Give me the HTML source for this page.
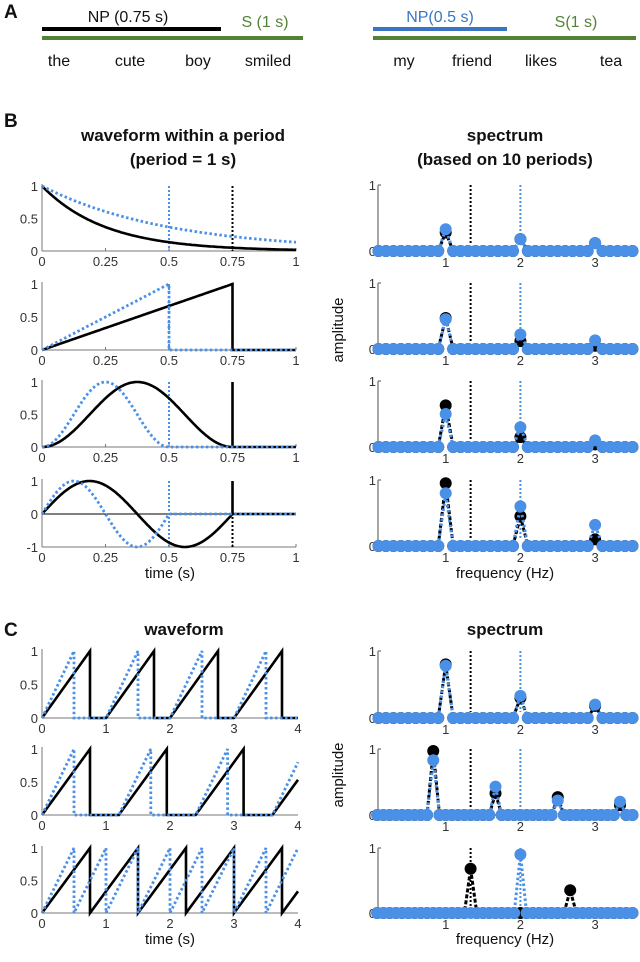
<!DOCTYPE html>
<html><head><meta charset="utf-8"><style>
body{margin:0;background:#fff;}
svg{display:block;font-family:"Liberation Sans",Arial,sans-serif;}
.tk{font-size:13px;fill:#333;}
.lab{font-size:15px;fill:#111;}
.ttl{font-size:17px;font-weight:bold;fill:#111;}
.pl{font-size:19px;font-weight:bold;fill:#111;}
</style></head><body>
<svg id="fig" width="640" height="962" viewBox="0 0 640 962">
<g>
<text class="pl" x="4" y="18">A</text>
<text x="128" y="22" text-anchor="middle" font-size="16" fill="#111">NP (0.75 s)</text>
<text x="265" y="27" text-anchor="middle" font-size="16" fill="#548235">S (1 s)</text>
<rect x="42" y="27" width="179" height="4" fill="#000"/>
<rect x="42" y="36" width="261" height="4" fill="#548235"/>
<g font-size="16" fill="#111" text-anchor="middle">
<text x="59" y="66">the</text><text x="130" y="66">cute</text><text x="198" y="66">boy</text><text x="268" y="66">smiled</text></g>
<text x="440" y="22" text-anchor="middle" font-size="16" fill="#3a75c4">NP(0.5 s)</text>
<text x="576" y="27" text-anchor="middle" font-size="16" fill="#548235">S(1 s)</text>
<rect x="373" y="27" width="134" height="4" fill="#3a75c4"/>
<rect x="373" y="36" width="263" height="4" fill="#548235"/>
<g font-size="16" fill="#111" text-anchor="middle">
<text x="404" y="66">my</text><text x="472" y="66">friend</text><text x="541" y="66">likes</text><text x="611" y="66">tea</text></g>
</g>
<text class="pl" x="4" y="127">B</text>
<text class="ttl" x="183" y="141" text-anchor="middle">waveform within a period</text>
<text class="ttl" x="183" y="165" text-anchor="middle">(period = 1 s)</text>
<text class="ttl" x="505" y="141" text-anchor="middle">spectrum</text>
<text class="ttl" x="505" y="165" text-anchor="middle">(based on 10 periods)</text>
<text class="lab" x="170" y="578" text-anchor="middle">time (s)</text>
<text class="lab" x="505" y="578" text-anchor="middle">frequency (Hz)</text>
<text class="lab" transform="translate(343,330) rotate(-90)" text-anchor="middle">amplitude</text>
<text class="pl" x="4" y="636">C</text>
<text class="ttl" x="184" y="635" text-anchor="middle">waveform</text>
<text class="ttl" x="505" y="635" text-anchor="middle">spectrum</text>
<text class="lab" x="170" y="944" text-anchor="middle">time (s)</text>
<text class="lab" x="505" y="944" text-anchor="middle">frequency (Hz)</text>
<text class="lab" transform="translate(343,775) rotate(-90)" text-anchor="middle">amplitude</text>
</svg>
<script>
// ---- data ----
const bTicksX = ["0","0.25","0.5","0.75","1"];
const bTickVals = [0,0.25,0.5,0.75,1];
const cTickVals = [0,1,2,3,4];
const fTickVals = [1,2,3];
const decayBlack = 4, decayBlue = 2;          // exp decay rates (row 1)
const npDurBlack = 0.75, npDurBlue = 0.5;     // NP durations
const specBHarm = [1,2,3];
const specBBlack = [[0.28,0.18,0.12],[0.47,0.12,0.05],[0.63,0.15,0.04],[0.95,0.45,0.10]];
const specBBlue  = [[0.33,0.18,0.12],[0.45,0.22,0.13],[0.50,0.30,0.10],[0.80,0.60,0.32]];
const cPeriodBlack = [1,1.2,0.75];
const cPeriodBlue  = [1,1.2,0.5];
const cStep = [0.1, 1/12, 1/12];
const cFreqBlack = [[1,2,3],[0.833,1.667,2.5,3.333],[1.333,2.667]];
const cValBlack  = [[0.80,0.30,0.18],[0.97,0.33,0.27,0.15],[0.68,0.35]];
const cFreqBlue  = [[1,2,3],[0.833,1.667,2.5,3.333],[2]];
const cValBlue   = [[0.78,0.33,0.20],[0.83,0.43,0.22,0.20],[0.90]];
// ---- drawing ----
const NS="http://www.w3.org/2000/svg", svg=document.getElementById('fig');
const BLUE="#4a90e6";
function mk(tag, attrs, name, parent){
  const el=document.createElementNS(NS,tag);
  for(const k in attrs) el.setAttribute(k,attrs[k]);
  
  
  (parent||svg).appendChild(el); return el;
}
function txt(x,y,s,anchor,name,parent){const t=mk('text',{x:x,y:y,'text-anchor':anchor,class:'tk'},name,parent);t.textContent=s;return t;}
function poly(pts,style,name,parent){return mk('polyline',Object.assign({points:pts.map(p=>p[0].toFixed(1)+','+p[1].toFixed(1)).join(' '),fill:'none'},style),name,parent);}
const blackSt={stroke:'#000','stroke-width':2.6};
const blueSt={stroke:BLUE,'stroke-width':2.8,'stroke-dasharray':'2.5 2.5'};

// B left
const bRows=[[186,251,0],[284,350,0],[382,447,0],[481,514,-1]];
const bx=t=>42+254*t;
const wfB=[
 [t=>Math.exp(-decayBlack*t), t=>Math.exp(-decayBlue*t)],
 [t=>t<=npDurBlack?t/npDurBlack:0, t=>t<=npDurBlue?t/npDurBlue:0],
 [t=>t<=npDurBlack?(1-Math.cos(2*Math.PI*t/npDurBlack))/2:0, t=>t<=npDurBlue?(1-Math.cos(2*Math.PI*t/npDurBlue))/2:0],
 [t=>t<=npDurBlack?Math.sin(2*Math.PI*t/npDurBlack):0, t=>t<=npDurBlue?Math.sin(2*Math.PI*t/npDurBlue):0]];
bRows.forEach((r,i)=>{
  const g=mk('g',{},'waveform-b-row-'+(i+1));
  const y1=r[0], y0=r[1], ymin=r[2];
  const ys=v=>y0-(y0-y1)*v;
  const bottom=ymin<0?ys(-1):y0;
  mk('line',{x1:42,y1:y1-2,x2:42,y2:bottom,stroke:'#777','stroke-width':1},'y-axis',g);
  mk('line',{x1:42,y1:bottom,x2:296,y2:bottom,stroke:'#777','stroke-width':1},'x-axis',g);
  if(ymin<0) mk('line',{x1:42,y1:y0,x2:296,y2:y0,stroke:'#000','stroke-width':1},'zero-line',g);
  bTickVals.forEach((v,k)=>{txt(bx(v),bottom+15,bTicksX[k],'middle','x-tick-label',g);
    mk('line',{x1:bx(v),y1:bottom,x2:bx(v),y2:bottom-3,stroke:'#777'},'x-tick',g);});
  const yt=ymin<0?[1,0,-1]:[1,0.5,0];
  yt.forEach(v=>txt(38,ys(v)+5,String(v),'end','y-tick-label',g));
  mk('line',{x1:bx(npDurBlue),y1:y1,x2:bx(npDurBlue),y2:bottom,stroke:BLUE,'stroke-width':2,'stroke-dasharray':'2 2'},'np-marker-blue',g);
  mk('line',{x1:bx(npDurBlack),y1:y1,x2:bx(npDurBlack),y2:bottom,stroke:'#000','stroke-width':2,'stroke-dasharray':'2 2'},'np-marker-black',g);
  const pb=[],pu=[];
  for(let k=0;k<=200;k++){const t=k/200;pb.push([bx(t),ys(wfB[i][0](t))]);pu.push([bx(t),ys(wfB[i][1](t))]);}
  if(i>0){pb.splice(151,0,[bx(npDurBlack),ys(1)],[bx(npDurBlack),y0]);}
  if(i===1){pu.splice(101,0,[bx(npDurBlue),ys(1)],[bx(npDurBlue),y0]);}
  poly(pb,blackSt,'waveform-black',g);
  poly(pu,blueSt,'waveform-blue',g);
});

// spectra
const fx=f=>371+74.7*f;
function spectrum(y1,y0,step,fB,vB,fU,vU,name){
  const g=mk('g',{},name);
  const ys=v=>y0-(y0-y1)*v;
  mk('line',{x1:378,y1:y1,x2:378,y2:y0,stroke:'#888','stroke-width':1.5},'y-axis',g);
  mk('line',{x1:378,y1:y1,x2:381,y2:y1,stroke:'#888','stroke-width':1.5},'y-tick',g);
  txt(376,y1+5,'1','end','y-tick-label',g); txt(376,y0+5,'0','end','y-tick-label',g);
  fTickVals.forEach(f=>txt(fx(f),y0+16,String(f),'middle','x-tick-label',g));
  mk('line',{x1:fx(4/3),y1:y1,x2:fx(4/3),y2:y0-6,stroke:'#000','stroke-width':2,'stroke-dasharray':'2 2'},'black-np-frequency-marker',g);
  mk('line',{x1:fx(2),y1:y1,x2:fx(2),y2:y0-6,stroke:BLUE,'stroke-width':2,'stroke-dasharray':'2 2'},'blue-np-frequency-marker',g);
  const n=Math.round(3.5/step);
  function series(fs,vs){const p=[];for(let k=1;k<=n;k++){const f=k*step;let v=0;fs.forEach((h,j)=>{if(Math.abs(h-f)<step/2)v=vs[j];});p.push([fx(f),ys(v)]);}return p;}
  const pb=series(fB,vB), pu=series(fU,vU);
  poly(pb,{stroke:'#000','stroke-width':3,'stroke-dasharray':'4 2'},'spectrum-line-black',g);
  pb.forEach(p=>mk('circle',{cx:p[0],cy:p[1],r:6,fill:'#000'},'spectrum-point-black',g));
  poly(pu,{stroke:BLUE,'stroke-width':3,'stroke-dasharray':'2.5 2.5'},'spectrum-line-blue',g);
  pu.forEach(p=>mk('circle',{cx:p[0],cy:p[1],r:6,fill:BLUE},'spectrum-point-blue',g));
}
bRows.forEach((r,i)=>spectrum(r[0]-1,251+98*i+(i===3?1:0),0.1,specBHarm,specBBlack[i],specBHarm,specBBlue[i],'spectrum-b-row-'+(i+1)));

// C left
const cRows=[[651,718],[749,815],[848,913]];
const cx=t=>42+64*t;
cRows.forEach((r,i)=>{
  const g=mk('g',{},'waveform-c-row-'+(i+1));
  const y1=r[0],y0=r[1],ys=v=>y0-(y0-y1)*v;
  mk('line',{x1:42,y1:y1-2,x2:42,y2:y0,stroke:'#777'},'y-axis',g);
  mk('line',{x1:42,y1:y0,x2:298,y2:y0,stroke:'#777'},'x-axis',g);
  cTickVals.forEach(v=>txt(cx(v),y0+15,String(v),'middle','x-tick-label',g));
  [1,0.5,0].forEach(v=>txt(38,ys(v)+5,String(v),'end','y-tick-label',g));
  function wave(P,D){const p=[];for(let s=0;s<4;s+=P){const e=Math.min(s+D,4);p.push([cx(s),y0],[cx(e),ys((e-s)/D)]);if(s+D<4){p.push([cx(s+D),y0]);const ne=Math.min(s+P,4);if(ne>s+D)p.push([cx(ne),y0]);}}return p;}
  poly(wave(cPeriodBlack[i],npDurBlack),blackSt,'waveform-black',g);
  poly(wave(cPeriodBlue[i],npDurBlue),blueSt,'waveform-blue',g);
});
cRows.forEach((r,i)=>spectrum(r[0],r[1],cStep[i],cFreqBlack[i],cValBlack[i],cFreqBlue[i],cValBlue[i],'spectrum-c-row-'+(i+1)));
</script>
</body></html>
